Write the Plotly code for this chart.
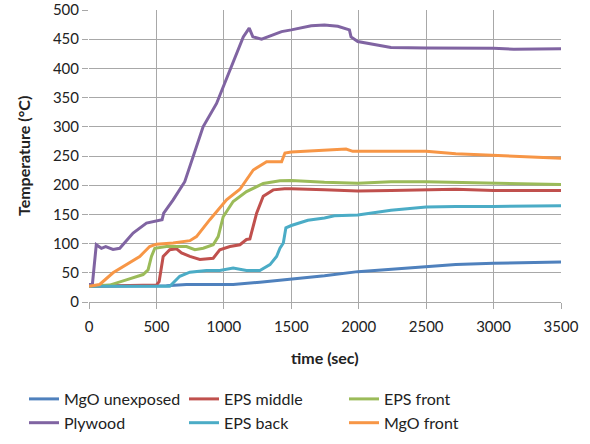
import plotly.graph_objects as go

# ---- data ----
mgo_unexp_t = [0, 300, 574, 723, 900, 1069, 1267, 1400, 1500, 1746, 1993, 2239, 2500, 2720, 3000, 3250, 3500]
mgo_unexp_v = [27, 27.5, 28, 30, 30.5, 30, 34, 37, 39, 45, 52, 56, 61, 64, 66.5, 67.5, 68.5]

eps_mid_t = [0, 500, 520, 550, 599, 649, 686, 748, 822, 921, 970, 1045, 1119, 1168, 1193, 1205, 1243, 1292, 1366, 1450, 1500, 1746, 1993, 2239, 2500, 2720, 3000, 3500]
eps_mid_v = [27, 29, 35, 78, 89.5, 91, 84, 78, 73, 75, 89.5, 95, 98, 107, 108, 118, 152, 181, 192, 194, 194, 192, 190, 191, 192, 193, 191, 191]

eps_front_t = [0, 153, 277, 401, 438, 463, 488, 574, 723, 785, 847, 921, 958, 995, 1069, 1168, 1292, 1416, 1500, 1746, 1993, 2239, 2500, 2720, 3000, 3500]
eps_front_v = [27, 29, 38, 47, 55, 78, 92, 95, 95, 89.5, 92, 98, 112, 146, 172, 189, 203, 207.5, 208, 205, 203.5, 206, 206, 205, 203, 201]

plywood_t = [0, 25, 54, 92, 124, 178, 228, 327, 426, 500, 542, 554, 624, 710, 785, 846, 946, 1069, 1144, 1188, 1215, 1280, 1428, 1500, 1648, 1746, 1845, 1931, 1943, 1993, 2140, 2239, 2500, 3000, 3150, 3500]
plywood_v = [30, 30, 98, 92, 95, 90, 92, 118, 135, 138, 141, 152, 175, 206, 260, 300, 340, 409, 454, 469, 454, 450, 463, 466, 473, 474.5, 472, 466, 454, 446, 440, 436, 435, 434.5, 433, 433.5]

eps_back_t = [0, 599, 673, 748, 871, 970, 1069, 1168, 1267, 1342, 1391, 1416, 1441, 1460, 1500, 1623, 1746, 1820, 1993, 2239, 2500, 2720, 3000, 3500]
eps_back_v = [27, 27, 44, 51, 54, 54, 58, 54, 54, 64, 78, 92, 101, 127, 131, 140, 144, 147.7, 149, 157, 162.5, 163.6, 163.6, 165]

mgo_front_t = [0, 79, 178, 277, 376, 450, 500, 624, 748, 797, 896, 1020, 1119, 1218, 1317, 1428, 1453, 1500, 1746, 1906, 1956, 2239, 2500, 2720, 3000, 3220, 3500]
mgo_front_v = [27, 30, 50, 64, 78, 95, 99, 101, 105, 112, 141, 175, 193, 226, 240, 240, 255, 257, 260.5, 262, 258, 258, 258, 254, 251, 248, 246]

series_names = ["MgO unexposed", "EPS middle", "EPS front", "Plywood", "EPS back", "MgO front"]
series_t = [mgo_unexp_t, eps_mid_t, eps_front_t, plywood_t, eps_back_t, mgo_front_t]
series_v = [mgo_unexp_v, eps_mid_v, eps_front_v, plywood_v, eps_back_v, mgo_front_v]
colors = ["#4F81BD", "#C0504D", "#9BBB59", "#8064A2", "#4BACC6", "#F79646"]
legend_ids = ["legend", "legend2", "legend3", "legend", "legend2", "legend3"]

x_ticks = [0, 500, 1000, 1500, 2000, 2500, 3000, 3500]
y_ticks = [0, 50, 100, 150, 200, 250, 300, 350, 400, 450, 500]
x_title = "time (sec)"
y_title = "Temperature (°C)"

FONT = "Lato, 'Open Sans', sans-serif"
W, H = 590, 444

fig = go.Figure()
for name, t, v, c, lg in zip(series_names, series_t, series_v, colors, legend_ids):
    fig.add_trace(go.Scatter(x=t, y=v, name=name, mode="lines", legend=lg,
                             line=dict(color=c, width=3)))

grid = "#a8a8a8"


def leg(xpx):
    return dict(orientation="v", xref="container", yref="container",
                x=xpx / W, y=1 - 382 / H, yanchor="top", xanchor="left",
                font=dict(size=16, color="#222"), tracegroupgap=0,
                itemwidth=30, bgcolor="rgba(0,0,0,0)", borderwidth=0)


fig.update_layout(
    width=W, height=H,
    margin=dict(l=89, r=29, t=10, b=142, autoexpand=False),
    paper_bgcolor="white", plot_bgcolor="white",
    font=dict(family=FONT, size=15, color="#222"),
    showlegend=True,
    legend=leg(24), legend2=leg(184), legend3=leg(344),
    annotations=[
        dict(text="<b>" + x_title + "</b>", xref="paper", yref="paper",
             x=0.5, y=-56 / 292, xanchor="center", yanchor="middle",
             showarrow=False, font=dict(size=16, color="#222")),
        dict(text="<b>" + y_title + "</b>", xref="paper", yref="paper",
             x=-66 / 472, y=0.5, xanchor="center", yanchor="middle",
             textangle=-90, showarrow=False, font=dict(size=16, color="#222")),
    ],
)
fig.update_xaxes(
    range=[0, 3500], tickvals=x_ticks, ticktext=[str(v) for v in x_ticks],
    showgrid=True, gridcolor=grid, gridwidth=1,
    ticks="outside", ticklen=6, tickcolor=grid,
    showline=True, linecolor=grid, zeroline=False, automargin=False,
    ticklabeloverflow="allow", ticklabelstandoff=5,
)
fig.update_yaxes(
    range=[0, 500], tickvals=y_ticks, ticktext=[str(v) for v in y_ticks],
    showgrid=True, gridcolor=grid, gridwidth=1,
    ticks="outside", ticklen=6, tickcolor=grid,
    showline=False, zeroline=False, automargin=False,
    ticklabeloverflow="allow",
)

fig.write_html("out.html", config={"displayModeBar": False},
               post_script="document.body.style.margin='0';")
